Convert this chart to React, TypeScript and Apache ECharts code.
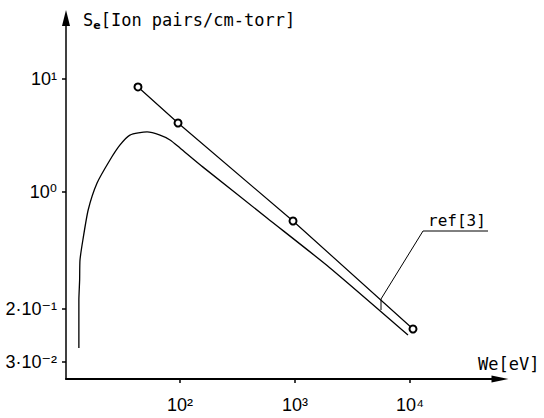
import React, { useEffect, useRef } from 'react';
import * as echarts from 'echarts';

// Electron energy (eV) and specific ionization (ion pairs / cm-torr)
const curveEnergy = [13.2, 13.2, 13.4, 13.5, 14.3, 15.9, 19.0, 24.6, 30.1, 36.7, 51.7, 67.0, 81.9, 100, 158.5, 571, 2015, 9610];
const curveYield = [0.0416, 0.111, 0.166, 0.25, 0.376, 0.693, 1.2, 1.92, 2.61, 3.19, 3.4, 3.19, 2.89, 2.45, 1.66, 0.589, 0.213, 0.0543];

// ref[3] measured points
const refEnergy = [43.1, 96.1, 961, 10620];
const refYield = [8.5, 4.08, 0.554, 0.0613];

// axis ticks as drawn in the original figure
const xTickValues = [100, 1000, 10000];
const xTickLabels = ['10²', '10³', '10⁴'];
const yTickValues = [0.0313, 0.0922, 1, 10];
const yTickLabels = ['3·10⁻²', '2·10⁻¹', '10⁰', '10¹'];

const xMin = 10.2;
const xMax = 60640;
const yMin = 0.02214;
const yMax = 34.66;

function labelFor(values: number[], labels: string[]) {
  return (v: number) => {
    for (let i = 0; i < values.length; i++) {
      if (Math.abs(Math.log10(v) - Math.log10(values[i])) < 0.01) return labels[i];
    }
    return '';
  };
}

const tickFont = 'Liberation Sans, DejaVu Sans, sans-serif';
const titleFont = 'DejaVu Sans Mono, monospace';

export default function App() {
  const ref = useRef<HTMLDivElement>(null);
  useEffect(() => {
    if (!ref.current) return;
    const chart = echarts.init(ref.current, undefined, { renderer: 'svg' });
    const option: any = {
      animation: false,
      backgroundColor: '#fff',
      grid: { left: 66, right: 44, top: 18, bottom: 39, containLabel: false, outerBoundsMode: 'none' },
      xAxis: {
        type: 'log',
        logBase: 10,
        min: xMin,
        max: xMax,
        axisLine: {
          show: true,
          onZero: false,
          symbol: ['none', 'triangle'],
          symbolSize: [7, 17],
          lineStyle: { color: '#000', width: 2 },
        },
        axisTick: { show: true, customValues: xTickValues, length: 4, lineStyle: { color: '#000', width: 1.5 } },
        minorTick: { show: false },
        axisLabel: {
          customValues: xTickValues,
          formatter: labelFor(xTickValues, xTickLabels),
          margin: 17,
          fontSize: 18,
          color: '#000',
          fontFamily: tickFont,
        },
        splitLine: { show: false },
      },
      yAxis: {
        type: 'log',
        logBase: 10,
        min: yMin,
        max: yMax,
        axisLine: {
          show: true,
          onZero: false,
          symbol: ['none', 'triangle'],
          symbolSize: [8, 16],
          lineStyle: { color: '#000', width: 1.5 },
        },
        axisTick: { show: true, customValues: yTickValues, length: 4, lineStyle: { color: '#000', width: 1.5 } },
        minorTick: { show: false },
        axisLabel: {
          customValues: yTickValues,
          formatter: labelFor(yTickValues, yTickLabels),
          margin: 9,
          fontSize: 18,
          color: '#000',
          fontFamily: tickFont,
        },
        splitLine: { show: false },
      },
      series: [
        {
          name: 'Se',
          type: 'line',
          data: curveEnergy.map((x, i) => [x, curveYield[i]]),
          showSymbol: false,
          smooth: 0.2,
          clip: false,
          lineStyle: { color: '#000', width: 1.3 },
        },
        {
          name: 'ref[3]',
          type: 'line',
          data: refEnergy.map((x, i) => [x, refYield[i]]),
          symbol: 'emptyCircle',
          symbolSize: 7,
          clip: false,
          itemStyle: { color: '#000', borderColor: '#000', borderWidth: 1.5 },
          lineStyle: { color: '#000', width: 1.2 },
        },
      ],
      graphic: [
        {
          type: 'text',
          left: 83,
          top: 11,
          style: {
            text: '{a|S}{b|e}{a|[Ion pairs/cm-torr]}',
            rich: {
              a: { fontFamily: titleFont, fontSize: 17, fill: '#000', lineHeight: 22, verticalAlign: 'middle' },
              b: { fontFamily: 'DejaVu Sans, sans-serif', fontSize: 11, fontWeight: 'bold', fill: '#000', verticalAlign: 'bottom', lineHeight: 22 },
            },
          },
        },
        {
          type: 'text',
          left: 478,
          top: 355,
          style: { text: 'We[eV]', fontFamily: titleFont, fontSize: 17, fill: '#000' },
        },
        {
          type: 'text',
          left: 428,
          top: 212,
          style: { text: 'ref[3]', fontFamily: titleFont, fontSize: 16, fill: '#000' },
        },
        {
          type: 'polyline',
          shape: { points: [[488, 231], [423, 231], [381, 299], [381, 310]] },
          style: { stroke: '#000', lineWidth: 1, fill: 'none' },
        },
      ],
    };
    chart.setOption(option);
    return () => chart.dispose();
  }, []);
  return (
    <div
      ref={ref}
      style={{ position: 'fixed', left: 0, top: 0, width: 544, height: 418, background: '#fff' }}
    />
  );
}
